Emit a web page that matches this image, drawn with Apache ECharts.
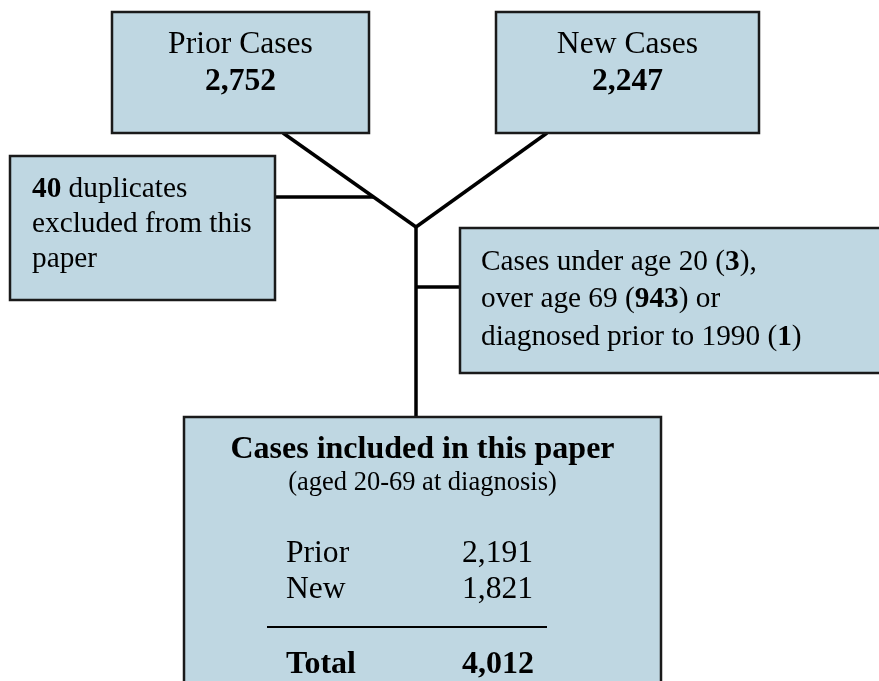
<!DOCTYPE html>
<html>
<head>
<meta charset="utf-8">
<script src="https://cdn.jsdelivr.net/npm/echarts@6/dist/echarts.min.js"></script>
<style>
html,body{margin:0;padding:0;background:#fff;}
#chart{width:879px;height:681px;}
</style>
</head>
<body>
<div id="chart"></div>
<script>
// ---- data ----
const sourceLabels = ['Prior Cases', 'New Cases'];
const sourceCounts = ['2,752', '2,247'];
const duplicatesExcluded = ['40'];
const exclusionCounts = ['3', '943', '1']; // under 20, over 69, prior to 1990
const includedTitle = ['Cases included in this paper', '(aged 20-69 at diagnosis)'];
const includedRows = ['Prior', 'New'];
const includedCounts = ['2,191', '1,821'];
const totalLabel = ['Total'];
const totalCount = ['4,012'];

// ---- drawing ----
const FONT = "'Liberation Serif', 'Times New Roman', serif";
const FILL = '#BFD7E2';
const EDGE = '#1a1a1a';
const FS = 29.3;
const FL = 31.6;
const DY = 3;

function box(x, y, w, h) {
  return { type: 'rect', shape: { x: x, y: y, width: w, height: h },
    style: { fill: FILL, stroke: EDGE, lineWidth: 2.5 }, z: 1 };
}
function line(x1, y1, x2, y2, w, z) {
  return { type: 'line', shape: { x1: x1, y1: y1, x2: x2, y2: y2 },
    style: { stroke: '#000', lineWidth: w || 3.5 }, z: z || 0 };
}
function txt(text, x, y, opts) {
  opts = opts || {};
  const size = opts.size || FS;
  return { type: 'text', x: x, y: y + DY, z: 5,
    style: { text: text, fill: '#000',
      font: (opts.bold ? 'bold ' : '') + size + 'px ' + FONT,
      textAlign: opts.align || 'left', textVerticalAlign: 'middle',
      rich: { b: { fontWeight: 'bold', fontSize: size, fontFamily: FONT, fill: '#000' } } } };
}

const els = [];
// connectors
els.push(line(283, 133, 416, 227));
els.push(line(547, 133, 416, 227));
els.push(line(416, 226, 416, 418));
els.push(line(274, 197, 374, 197));
els.push(line(416, 287, 461, 287));

// top boxes
const topX = [112, 496];
const topW = [257, 263];
for (let i = 0; i < 2; i++) {
  els.push(box(topX[i], 12, topW[i], 121));
  els.push(txt(sourceLabels[i], topX[i] + topW[i] / 2, 42, { align: 'center', size: FL }));
  els.push(txt(sourceCounts[i], topX[i] + topW[i] / 2, 79, { align: 'center', bold: true, size: FL }));
}

// duplicates box
els.push(box(10, 156, 265, 144));
els.push(txt('{b|' + duplicatesExcluded[0] + '} duplicates', 32, 186));
els.push(txt('excluded from this', 32, 221));
els.push(txt('paper', 32, 256));

// exclusion box
els.push(box(460, 228, 430, 145));
els.push(txt('Cases under age 20 ({b|' + exclusionCounts[0] + '}),', 481, 259));
els.push(txt('over age 69 ({b|' + exclusionCounts[1] + '}) or', 481, 296));
els.push(txt('diagnosed prior to 1990 ({b|' + exclusionCounts[2] + '})', 481, 334));

// included box
els.push(box(184, 417, 477, 300));
els.push(txt(includedTitle[0], 422.5, 447, { align: 'center', bold: true, size: 32 }));
els.push(txt(includedTitle[1], 422.5, 480, { align: 'center', size: 26.5 }));
for (let i = 0; i < includedRows.length; i++) {
  els.push(txt(includedRows[i], 286, 551 + i * 36, { size: FL }));
  els.push(txt(includedCounts[i], 462, 551 + i * 36, { size: FL }));
}
els.push(line(267, 627, 547, 627, 2, 3));
els.push(txt(totalLabel[0], 286, 662, { bold: true, size: 32 }));
els.push(txt(totalCount[0], 462, 662, { bold: true, size: 32 }));

const chart = echarts.init(document.getElementById('chart'), null, { renderer: 'canvas' });
chart.setOption({ backgroundColor: '#fff', animation: false, graphic: { elements: els } });
</script>
</body>
</html>
